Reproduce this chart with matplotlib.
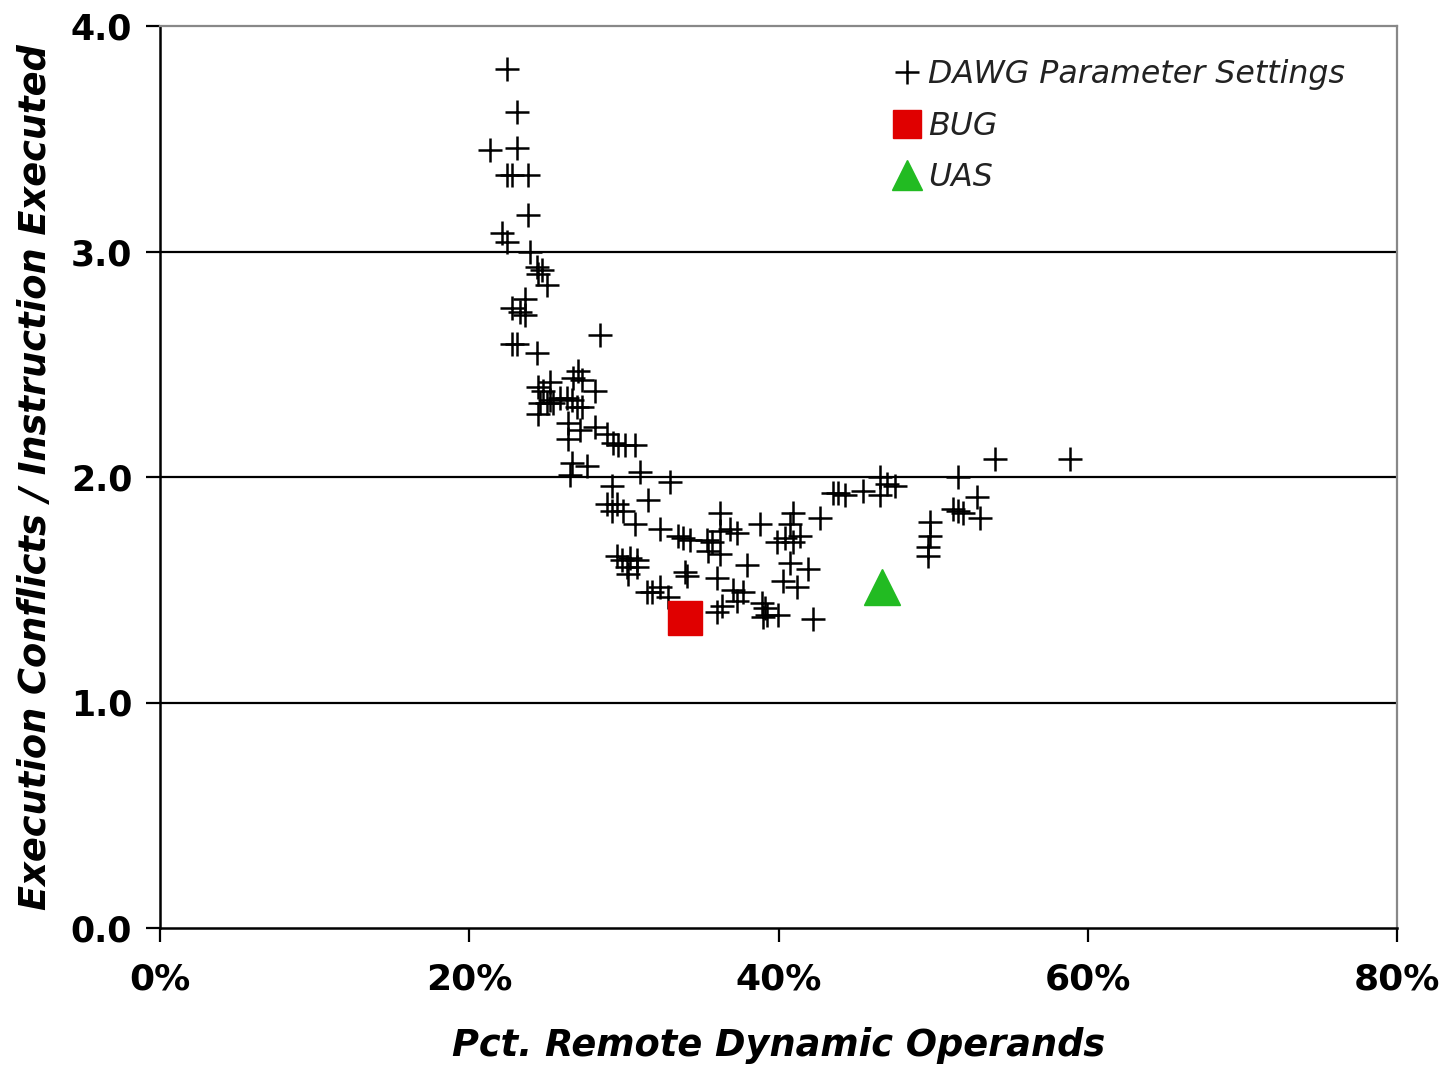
import matplotlib
matplotlib.use("Agg")
import matplotlib.pyplot as plt
from matplotlib.lines import Line2D
from matplotlib.ticker import FuncFormatter

# DAWG parameter settings: remote operand fraction (%) and conflicts per instruction
dawg_x_pct = [
    22.44, 23.09, 21.34, 23.09, 22.44, 22.76, 23.80, 23.80, 22.12, 22.44,
    23.93, 24.38, 24.70, 24.45, 25.03, 22.76, 23.60, 23.28, 23.60, 28.45,
    22.76, 23.09, 24.38,
    27.03, 26.71, 27.29, 28.13, 24.45, 25.22, 24.77, 25.22, 25.03, 25.41,
    25.87, 26.32, 26.64, 26.97, 27.29, 24.57, 24.45, 26.39, 27.16, 28.13,
    26.39, 28.91, 29.30, 29.62, 30.07, 30.72, 26.64, 27.61, 26.51, 31.04,
    32.98,
    29.23, 28.91, 29.55, 29.23, 29.94, 31.56, 30.72, 32.34, 33.50, 33.82,
    34.28, 35.37, 35.70, 36.22, 36.86, 37.31, 36.22, 38.80, 35.44, 36.22,
    40.94, 42.68, 40.74, 40.42, 41.39, 40.94, 39.90, 43.52, 29.55, 29.88,
    30.39, 30.85, 30.20, 30.85, 30.27, 33.95, 34.08, 36.02, 37.96, 40.74,
    41.91, 40.29, 41.19, 31.49, 31.82, 32.34, 32.85, 37.06, 37.70, 37.31,
    36.34, 36.02, 38.93, 39.25, 39.97, 42.23, 39.00, 39.12,
    54.00, 58.85, 51.60, 46.56, 47.01, 47.53, 46.56, 43.84, 44.30, 45.46,
    52.83, 53.03, 51.60, 51.28, 51.93, 49.79, 49.79, 49.66, 49.66,
]
dawg_y = [
    3.81, 3.62, 3.45, 3.46, 3.34, 3.34, 3.34, 3.16, 3.08, 3.04,
    3.00, 2.93, 2.92, 2.90, 2.85, 2.75, 2.79, 2.73, 2.72, 2.63,
    2.59, 2.59, 2.55,
    2.47, 2.44, 2.43, 2.38, 2.40, 2.42, 2.38, 2.34, 2.33, 2.33,
    2.35, 2.35, 2.34, 2.31, 2.31, 2.33, 2.28, 2.24, 2.21, 2.22,
    2.17, 2.19, 2.15, 2.14, 2.14, 2.14, 2.06, 2.05, 2.01, 2.02,
    1.98,
    1.96, 1.88, 1.88, 1.85, 1.85, 1.90, 1.79, 1.77, 1.74, 1.73,
    1.72, 1.72, 1.71, 1.76, 1.77, 1.75, 1.84, 1.79, 1.67, 1.66,
    1.84, 1.82, 1.79, 1.73, 1.74, 1.71, 1.71, 1.93, 1.65, 1.63,
    1.64, 1.63, 1.60, 1.60, 1.57, 1.58, 1.56, 1.55, 1.61, 1.62,
    1.59, 1.54, 1.51, 1.49, 1.49, 1.51, 1.47, 1.50, 1.49, 1.45,
    1.43, 1.40, 1.44, 1.39, 1.39, 1.37, 1.38, 1.42,
    2.08, 2.08, 2.00, 2.00, 1.97, 1.96, 1.92, 1.93, 1.92, 1.94,
    1.91, 1.82, 1.85, 1.86, 1.84, 1.80, 1.74, 1.69, 1.65,
]
bug_x_pct = [33.95]
bug_y = [1.375]
uas_x_pct = [46.69]
uas_y = [1.51]

series_labels = ["DAWG Parameter Settings", "BUG", "UAS"]
x_ticks_pct = [0, 20, 40, 60, 80]
y_ticks = [0.0, 1.0, 2.0, 3.0, 4.0]
x_label = "Pct. Remote Dynamic Operands"
y_label = "Execution Conflicts / Instruction Executed"

plt.rcParams['font.family'] = ['DejaVu Sans']

fig = plt.figure(figsize=(14.49, 10.65), dpi=100)
ax = fig.add_axes([160 / 1449, 137 / 1065, (1397 - 160) / 1449, (1039 - 137) / 1065])

ax.set_xlim(0, 0.8)
ax.set_ylim(0, 4.0)

for yv in y_ticks[1:-1]:
    ax.axhline(yv, color='black', lw=1.6, zorder=1)

red = '#e00000'
green = '#22bb22'
ax.plot([v / 100 for v in dawg_x_pct], dawg_y, linestyle='none', marker='+',
        markersize=17, markeredgewidth=1.8, color='black', zorder=3)
ax.plot([v / 100 for v in bug_x_pct], bug_y, linestyle='none', marker='s',
        markersize=24, color=red, markeredgecolor=red, zorder=4)
ax.plot([v / 100 for v in uas_x_pct], uas_y, linestyle='none', marker='^',
        markersize=26, color=green, markeredgecolor=green, zorder=4)

ax.set_xticks([v / 100 for v in x_ticks_pct])
ax.xaxis.set_major_formatter(FuncFormatter(lambda v, p: f"{v * 100:.0f}%"))
ax.set_yticks(y_ticks)
ax.yaxis.set_major_formatter(FuncFormatter(lambda v, p: f"{v:.1f}"))

ax.tick_params(axis='both', direction='out', length=10, width=1.6, color='black')
ax.tick_params(axis='x', pad=15, labelsize=26)
ax.tick_params(axis='y', pad=10, labelsize=25)
for lab in ax.get_xticklabels() + ax.get_yticklabels():
    lab.set_fontweight('bold')

for s in ['left', 'bottom']:
    ax.spines[s].set_color('black')
    ax.spines[s].set_linewidth(1.8)
for s in ['top', 'right']:
    ax.spines[s].set_color('#888888')
    ax.spines[s].set_linewidth(1.6)

ax.set_xlabel(x_label, fontsize=26.5, fontweight='bold', fontstyle='italic', labelpad=22)
ax.set_ylabel(y_label, fontsize=26.5, fontweight='bold', fontstyle='italic', labelpad=12)

handles = [
    Line2D([], [], linestyle='none', marker='+', markersize=17, markeredgewidth=1.8, color='black'),
    Line2D([], [], linestyle='none', marker='s', markersize=20, color=red, markeredgecolor=red),
    Line2D([], [], linestyle='none', marker='^', markersize=21, color=green, markeredgecolor=green),
]
leg = ax.legend(handles, series_labels, loc='upper left', frameon=False,
                prop={'style': 'italic', 'size': 22.8},
                handlelength=0.9, handletextpad=0.24, labelspacing=0.65,
                borderpad=0, borderaxespad=0, bbox_to_anchor=(0.592, 0.9634))
for t in leg.get_texts():
    t.set_color('#222222')

fig.savefig("out.png", dpi=100, facecolor='white')
